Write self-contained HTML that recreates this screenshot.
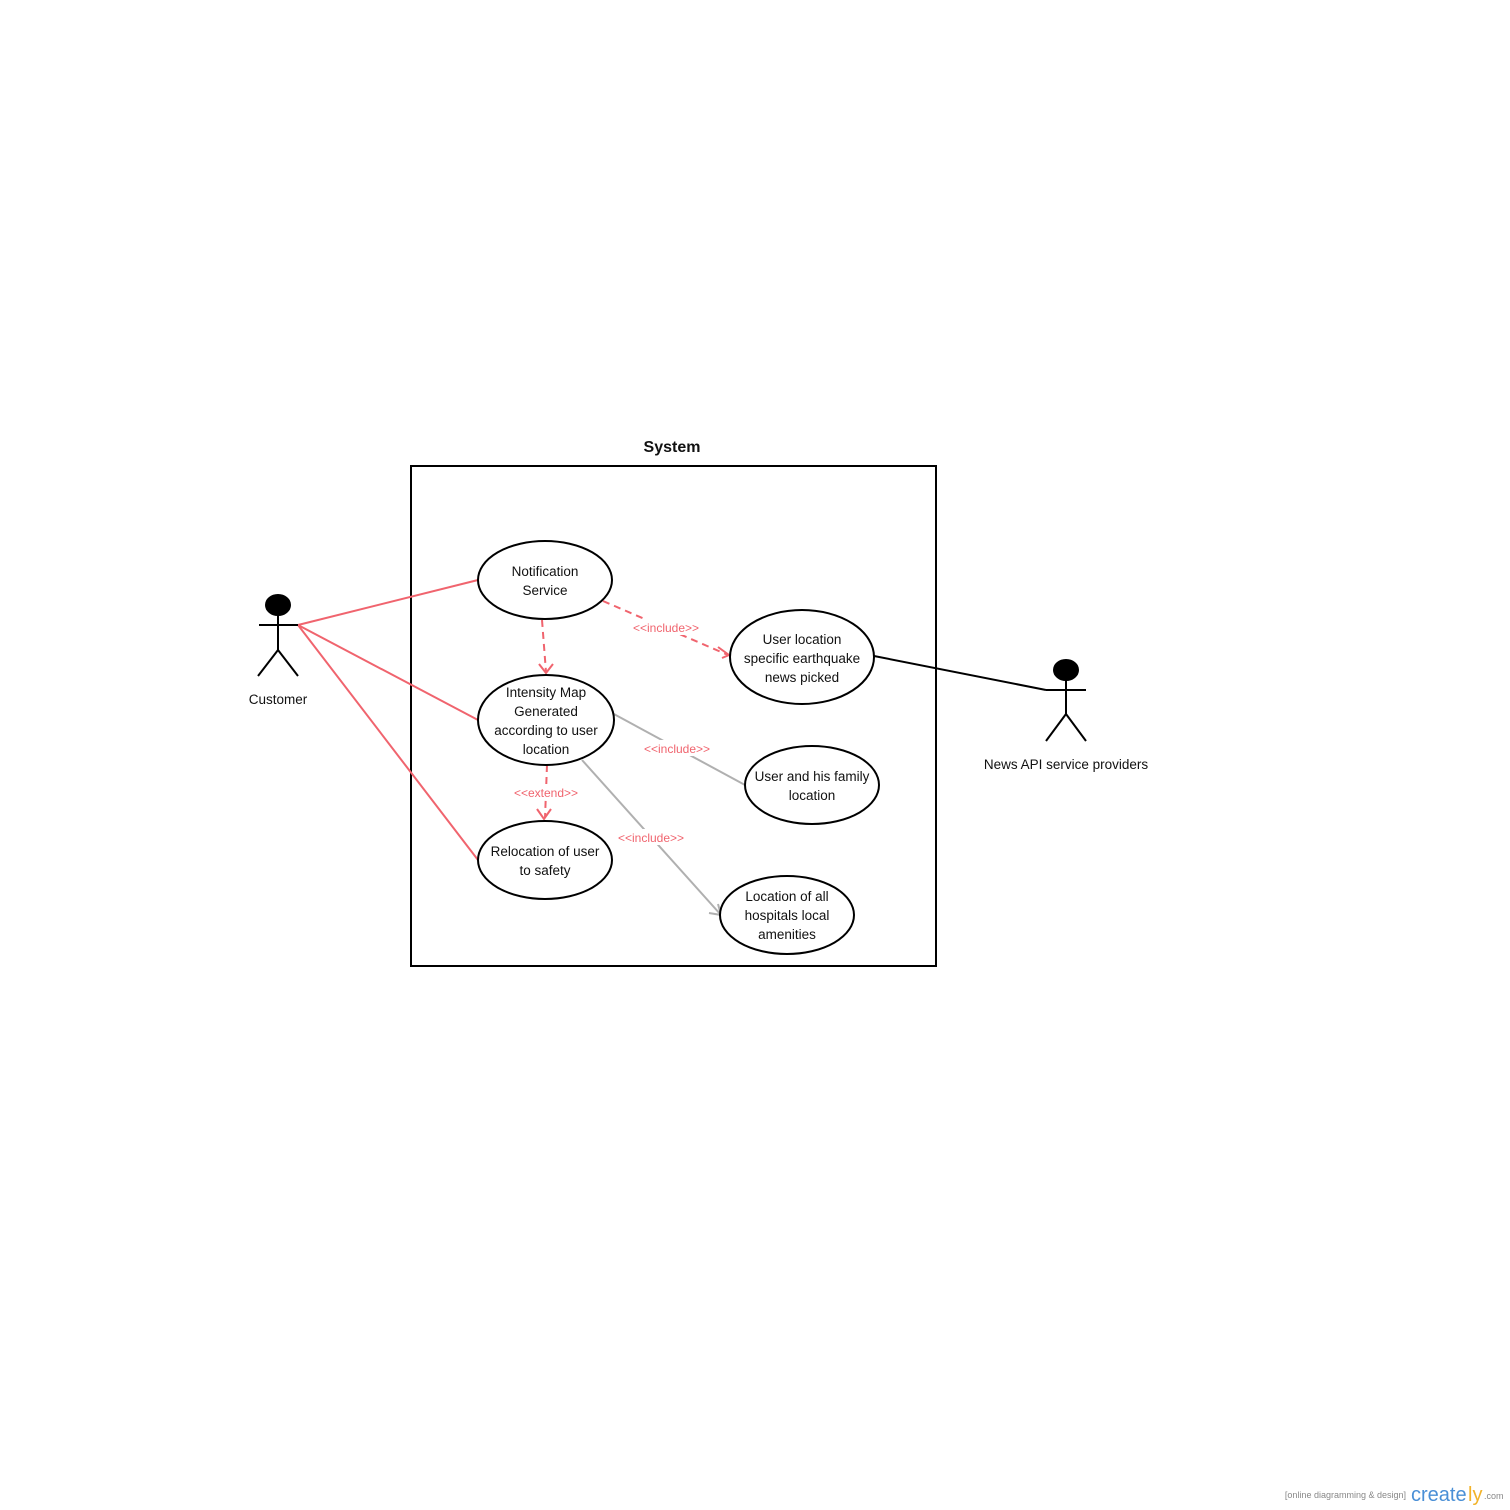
<!DOCTYPE html>
<html><head><meta charset="utf-8"><style>
html,body{margin:0;padding:0;background:#fff;}
svg{display:block;}
text{font-family:"Liberation Sans",sans-serif;}
</style></head><body>
<svg width="1510" height="1510" viewBox="0 0 1510 1510" xmlns="http://www.w3.org/2000/svg">
<rect width="1510" height="1510" fill="#fff"/>
<text x="672" y="452" font-size="16" font-weight="bold" text-anchor="middle" fill="#111">System</text>
<rect x="411" y="466" width="525" height="500" fill="none" stroke="#000" stroke-width="2"/>

<!-- customer lines -->
<g stroke="#f0646e" stroke-width="2" fill="none">
<line x1="298" y1="625" x2="478" y2="580"/>
<line x1="298" y1="625" x2="478" y2="720"/>
<line x1="298" y1="625" x2="478" y2="860"/>
</g>
<!-- dashed pink -->
<g stroke="#f0646e" stroke-width="2" fill="none" stroke-dasharray="7,5">
<line x1="542" y1="620" x2="546" y2="672"/>
<line x1="603" y1="601" x2="728" y2="655"/>
<line x1="547" y1="765" x2="545" y2="818"/>
</g>
<g stroke="#f0646e" stroke-width="2" fill="none">
<polyline points="539,664 546,673 553,664"/>
<polyline points="718,647 729,655 722,658"/>
<polyline points="537,809 544,819 551,809"/>
</g>
<!-- grey lines -->
<g stroke="#b0b0b0" stroke-width="2" fill="none">
<line x1="612" y1="713" x2="745" y2="785"/>
<line x1="582" y1="760" x2="721" y2="915"/>
<polyline points="709,913 721,915 718,904"/>
</g>
<!-- label backgrounds -->
<g fill="#fff">
<rect x="626" y="619" width="80" height="16"/>
<rect x="637" y="740" width="80" height="16"/>
<rect x="506" y="784" width="80" height="16"/>
<rect x="611" y="829" width="80" height="16"/>
</g>
<g font-size="12" fill="#f0646e" text-anchor="middle">
<text x="666" y="632">&lt;&lt;include&gt;&gt;</text>
<text x="677" y="753">&lt;&lt;include&gt;&gt;</text>
<text x="546" y="797">&lt;&lt;extend&gt;&gt;</text>
<text x="651" y="842">&lt;&lt;include&gt;&gt;</text>
</g>
<!-- news line -->
<line x1="874" y1="656" x2="1046" y2="690" stroke="#000" stroke-width="2"/>

<!-- ellipses -->
<g fill="#fff" stroke="#000" stroke-width="2">
<ellipse cx="545" cy="580" rx="67" ry="39"/>
<ellipse cx="546" cy="720" rx="68" ry="45"/>
<ellipse cx="545" cy="860" rx="67" ry="39"/>
<ellipse cx="802" cy="657" rx="72" ry="47"/>
<ellipse cx="812" cy="785" rx="67" ry="39"/>
<ellipse cx="787" cy="915" rx="67" ry="39"/>
</g>
<g font-size="13.5" fill="#111" text-anchor="middle">
<text x="545" y="576">Notification</text><text x="545" y="595">Service</text>
<text x="546" y="697">Intensity Map</text><text x="546" y="716">Generated</text><text x="546" y="735">according to user</text><text x="546" y="754">location</text>
<text x="545" y="856">Relocation of user</text><text x="545" y="875">to safety</text>
<text x="802" y="644">User location</text><text x="802" y="663">specific earthquake</text><text x="802" y="682">news picked</text>
<text x="812" y="781">User and his family</text><text x="812" y="800">location</text>
<text x="787" y="901">Location of all</text><text x="787" y="920">hospitals local</text><text x="787" y="939">amenities</text>
</g>

<!-- actors -->
<g stroke="#000" stroke-width="2" fill="none">
<ellipse cx="278" cy="605" rx="12" ry="10" fill="#000"/>
<line x1="278" y1="615" x2="278" y2="650"/>
<line x1="259" y1="625" x2="298" y2="625"/>
<line x1="278" y1="650" x2="258" y2="676"/>
<line x1="278" y1="650" x2="298" y2="676"/>
<ellipse cx="1066" cy="670" rx="12" ry="10" fill="#000"/>
<line x1="1066" y1="680" x2="1066" y2="714"/>
<line x1="1046" y1="690" x2="1086" y2="690"/>
<line x1="1066" y1="714" x2="1046" y2="741"/>
<line x1="1066" y1="714" x2="1086" y2="741"/>
</g>
<text x="278" y="704" font-size="13.5" fill="#111" text-anchor="middle">Customer</text>
<text x="1066" y="769" font-size="13.5" fill="#111" text-anchor="middle">News API service providers</text>

<!-- watermark -->
<text x="1406" y="1498" font-size="9" fill="#888" text-anchor="end">[online diagramming &amp; design]</text>
<text x="1411" y="1501" font-size="20" fill="#4a8fd6">create</text>
<text x="1468" y="1501" font-size="20" fill="#f2b32a">ly</text>
<text x="1484" y="1499" font-size="9" fill="#888">.com</text>
</svg>
</body></html>
